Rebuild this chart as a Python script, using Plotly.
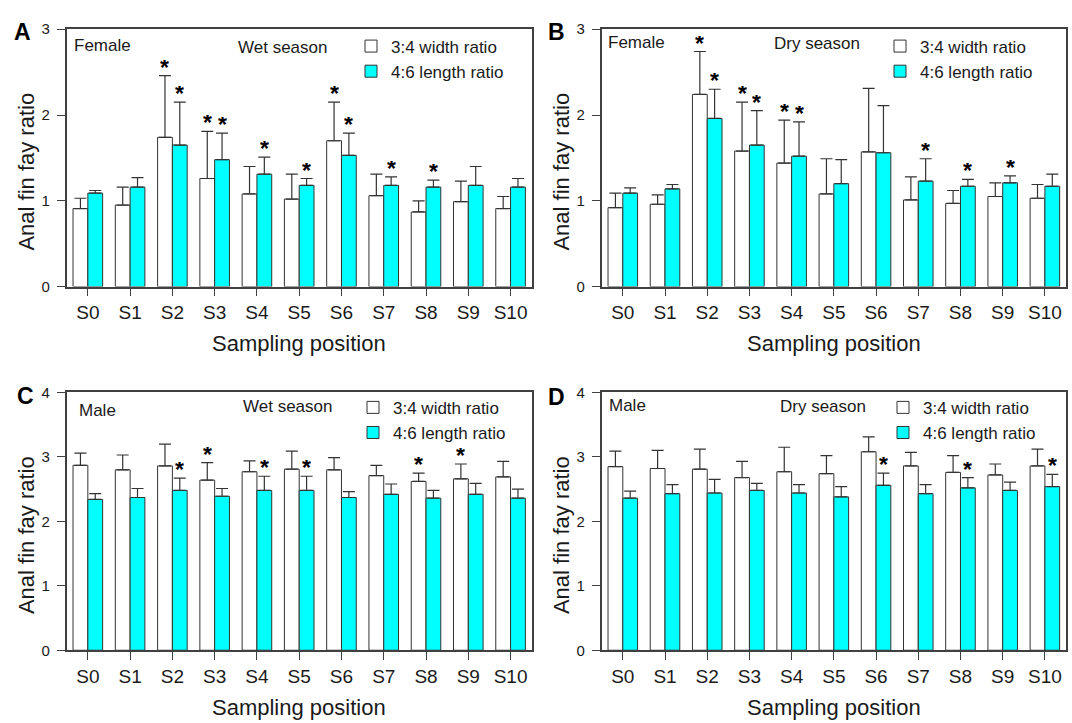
import plotly.graph_objects as go

# ---------------- data ----------------
positions = ["S0", "S1", "S2", "S3", "S4", "S5", "S6", "S7", "S8", "S9", "S10"]
series_names = ["3:4 width ratio", "4:6 length ratio"]

# Panel A: Female, wet season
a_width_mean = [0.91, 0.95, 1.74, 1.26, 1.08, 1.02, 1.70, 1.06, 0.87, 0.99, 0.91]
a_width_err = [0.12, 0.21, 0.72, 0.55, 0.32, 0.29, 0.45, 0.25, 0.13, 0.24, 0.14]
a_length_mean = [1.09, 1.16, 1.65, 1.48, 1.31, 1.18, 1.53, 1.18, 1.16, 1.18, 1.16]
a_length_err = [0.03, 0.11, 0.50, 0.31, 0.20, 0.08, 0.26, 0.10, 0.08, 0.22, 0.10]
a_width_star = [2, 3, 6]
a_length_star = [2, 3, 4, 5, 6, 7, 8]

# Panel B: Female, dry season
b_width_mean = [0.92, 0.96, 2.24, 1.58, 1.44, 1.08, 1.57, 1.01, 0.97, 1.05, 1.03]
b_width_err = [0.17, 0.11, 0.50, 0.57, 0.50, 0.41, 0.74, 0.27, 0.15, 0.16, 0.16]
b_length_mean = [1.09, 1.14, 1.96, 1.65, 1.52, 1.20, 1.56, 1.23, 1.17, 1.21, 1.17]
b_length_err = [0.06, 0.05, 0.34, 0.40, 0.40, 0.28, 0.55, 0.26, 0.08, 0.08, 0.14]
b_width_star = [2, 3, 4]
b_length_star = [2, 3, 4, 7, 8, 9]

# Panel C: Male, wet season
c_width_mean = [2.87, 2.80, 2.86, 2.64, 2.77, 2.81, 2.80, 2.71, 2.62, 2.66, 2.69]
c_width_err = [0.19, 0.23, 0.34, 0.27, 0.17, 0.28, 0.19, 0.16, 0.13, 0.23, 0.24]
c_length_mean = [2.34, 2.37, 2.48, 2.39, 2.48, 2.48, 2.37, 2.42, 2.36, 2.42, 2.36]
c_length_err = [0.09, 0.14, 0.19, 0.12, 0.22, 0.22, 0.09, 0.16, 0.12, 0.17, 0.14]
c_width_star = [3, 8, 9]
c_length_star = [2, 4, 5]

# Panel D: Male, dry season
d_width_mean = [2.85, 2.82, 2.81, 2.68, 2.77, 2.74, 3.08, 2.86, 2.76, 2.72, 2.86]
d_width_err = [0.24, 0.28, 0.31, 0.25, 0.38, 0.28, 0.23, 0.21, 0.26, 0.17, 0.26]
d_length_mean = [2.36, 2.43, 2.44, 2.48, 2.44, 2.38, 2.56, 2.43, 2.52, 2.48, 2.54]
d_length_err = [0.11, 0.14, 0.21, 0.11, 0.13, 0.16, 0.19, 0.14, 0.16, 0.13, 0.19]
d_width_star = []
d_length_star = [6, 8, 10]

panel_letters = ["A", "B", "C", "D"]
sex_labels = ["Female", "Female", "Male", "Male"]
season_labels = ["Wet season", "Dry season", "Wet season", "Dry season"]
y_max = [3, 3, 4, 4]
y_tick_vals = [[0, 1, 2, 3], [0, 1, 2, 3], [0, 1, 2, 3, 4], [0, 1, 2, 3, 4]]

# ---------------- style ----------------
FONT = "Liberation Sans, Arial, sans-serif"
TXT = "#1a1a1a"
FRAME = "#404040"
EDGE = "#333333"
CYAN = "#00FFFF"
BARGAP = 0.30

W, H = 1072, 723
x_doms = [[66.7 / W, 531.7 / W], [601.7 / W, 1066 / W]]
y_doms = [[1 - 284.3 / H, 1 - 20.7 / H], [1 - 656.7 / H, 1 - 392.7 / H]]

panels = [
    (a_width_mean, a_width_err, a_length_mean, a_length_err, a_width_star, a_length_star),
    (b_width_mean, b_width_err, b_length_mean, b_length_err, b_width_star, b_length_star),
    (c_width_mean, c_width_err, c_length_mean, c_length_err, c_width_star, c_length_star),
    (d_width_mean, d_width_err, d_length_mean, d_length_err, d_width_star, d_length_star),
]

fig = go.Figure()
xs = list(range(len(positions)))
annotations = []
layout_axes = {}

legend_pos = [(351, 20), (880, 20), (353, 390), (883, 390)]
label_off = [  # (sex xshift, sex yshift, season xshift, season yshift)
    (5, -16, 169, -18),
    (4, -13, 170, -14),
    (10, -18, 174, -14),
    (5, -13, 176, -14),
]
letter_off = [(-44, -3), (-45, -3), (-41, -4), (-45, -5)]

for p, (wm, we, lm, le, ws, ls) in enumerate(panels):
    n = p + 1
    sfx = "" if n == 1 else str(n)
    xa, ya = "x" + sfx, "y" + sfx
    leg = "legend" + sfx
    row, col = divmod(p, 2)

    fig.add_trace(go.Bar(
        x=xs, y=wm, name=series_names[0], xaxis=xa, yaxis=ya, legend=leg,
        marker=dict(color="white", line=dict(color=EDGE, width=1)),
        error_y=dict(type="data", symmetric=False, array=we, arrayminus=[0] * len(we),
                     color=EDGE, thickness=1.2, width=6),
    ))
    fig.add_trace(go.Bar(
        x=xs, y=lm, name=series_names[1], xaxis=xa, yaxis=ya, legend=leg,
        marker=dict(color=CYAN, line=dict(color=EDGE, width=1)),
        error_y=dict(type="data", symmetric=False, array=le, arrayminus=[0] * len(le),
                     color=EDGE, thickness=1.2, width=6),
    ))

    layout_axes["xaxis" + sfx] = dict(
        domain=x_doms[col], anchor=ya, range=[-0.5, len(positions) - 0.5],
        tickmode="array", tickvals=xs, ticktext=positions,
        ticks="outside", ticklen=8, tickwidth=1.2, tickcolor=FRAME,
        showline=True, linecolor=FRAME, linewidth=1.5, mirror=True,
        showgrid=False, zeroline=False,
        tickfont=dict(family=FONT, size=19, color=TXT),
    )
    layout_axes["yaxis" + sfx] = dict(
        domain=y_doms[row], anchor=xa, range=[0, y_max[p]],
        tickmode="array", tickvals=y_tick_vals[p],
        ticks="outside", ticklen=8, tickwidth=1.2, tickcolor=FRAME,
        showline=True, linecolor=FRAME, linewidth=1.5, mirror=True,
        showgrid=False, zeroline=False, ticklabelstandoff=4,
        tickfont=dict(family=FONT, size=15, color=TXT),
    )
    lx, ly = legend_pos[p]
    layout_axes[leg] = dict(
        x=lx / W, y=1 - ly / H, xanchor="left", yanchor="top",
        bgcolor="rgba(0,0,0,0)", borderwidth=0, tracegroupgap=0,
        font=dict(family=FONT, size=17, color=TXT),
    )

    xd, yd = xa + " domain", ya + " domain"
    # axis titles
    annotations.append(dict(text="Sampling position", xref=xd, yref=yd, x=0.5, y=0,
                            yshift=-57, showarrow=False, yanchor="middle",
                            font=dict(family=FONT, size=22, color=TXT)))
    annotations.append(dict(text="Anal fin fay ratio", xref=xd, yref=yd, x=0, y=0.5,
                            xshift=-40, yshift=-14, textangle=-90, showarrow=False,
                            xanchor="center", yanchor="middle",
                            font=dict(family=FONT, size=22, color=TXT)))
    # panel letter
    lxs, lys = letter_off[p]
    annotations.append(dict(text="<b>%s</b>" % panel_letters[p], xref=xd, yref=yd, x=0, y=1,
                            xshift=lxs, yshift=lys, showarrow=False,
                            xanchor="center", yanchor="middle",
                            font=dict(family=FONT, size=23, color="black")))
    # inner labels
    sx, sy, tx, ty = label_off[p]
    annotations.append(dict(text=sex_labels[p], xref=xd, yref=yd, x=0, y=1,
                            xshift=sx, yshift=sy, showarrow=False,
                            xanchor="left", yanchor="middle",
                            font=dict(family=FONT, size=17, color=TXT)))
    annotations.append(dict(text=season_labels[p], xref=xd, yref=yd, x=0, y=1,
                            xshift=tx, yshift=ty, showarrow=False,
                            xanchor="left", yanchor="middle",
                            font=dict(family=FONT, size=17, color=TXT)))
    # significance stars
    off = (1 - BARGAP) / 4
    for idxs, means, errs, sign in ((ws, wm, we, -1), (ls, lm, le, 1)):
        for i in idxs:
            annotations.append(dict(text="<b>*</b>", xref=xa, yref=ya,
                                    x=xs[i] + sign * off, y=means[i] + errs[i],
                                    yshift=8, height=16, showarrow=False,
                                    xanchor="center", yanchor="middle",
                                    font=dict(family=FONT, size=23, color="black")))

fig.update_layout(
    width=W, height=H, margin=dict(l=0, r=0, t=0, b=0),
    paper_bgcolor="white", plot_bgcolor="white",
    barmode="group", bargap=BARGAP, bargroupgap=0,
    annotations=annotations,
    **layout_axes,
)

fig.write_html(
    "out.html",
    config={"displayModeBar": False},
    post_script="document.body.style.margin='0';document.body.style.overflow='hidden';",
)
